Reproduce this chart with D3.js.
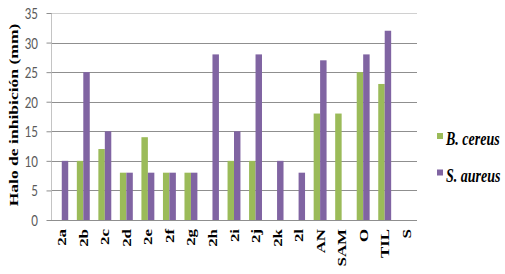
<!DOCTYPE html>
<html>
<head>
<meta charset="utf-8">
<script src="https://cdn.jsdelivr.net/npm/d3@7"></script>
<style>
html,body{margin:0;padding:0;background:#fff;}
svg{display:block;}
</style>
</head>
<body>
<svg id="chart" width="505" height="274"></svg>
<script>
const categories = ["2a","2b","2c","2d","2e","2f","2g","2h","2i","2j","2k","2l","AN","SAM","O","TIL","S"];
const bCereus =  [0,10,12,8,14,8,8,0,10,10,0,0,18,18,25,23,0];
const sAureus =  [10,25,15,8,8,8,8,28,15,28,10,8,27,0,28,32,0];
const seriesNames = ["B. cereus","S. aureus"];
const seriesColors = ["#9BBB59","#8064A2"];
const yTicks = [0,5,10,15,20,25,30,35];
const yTitle = "Halo de inhibición (mm)";

(function(){
const SY = 1.35; // vertical glyph stretch seen in the reference
const svg = d3.select("#chart");
const pLeft = 51, pRight = 417, pTop = 13, pBottom = 220;

const x = d3.scaleBand().domain(categories).range([pLeft, pRight]).paddingInner(0).paddingOuter(0);
const y = d3.scaleLinear().domain([0, 35]).range([pBottom, pTop]);
const bw = x.bandwidth() * 0.3;

// gridlines
svg.append("g").selectAll("line").data(yTicks.filter(d => d > 0)).join("line")
  .attr("x1", pLeft).attr("x2", pRight)
  .attr("y1", d => Math.round(y(d)) + 0.5).attr("y2", d => Math.round(y(d)) + 0.5)
  .attr("stroke", d => d === 35 ? "#d0d0d0" : "#8f8f8f").attr("stroke-width", 1);

// y axis
const yAxis = d3.axisLeft(y).tickValues(yTicks).tickSize(5).tickPadding(8);
const gy = svg.append("g").attr("transform", `translate(${pLeft + 0.5},0)`).call(yAxis);
gy.select(".domain").attr("stroke", "#c4c4c4").attr("d", `M0,${y(35)}V${y(0)}`);
gy.selectAll(".tick line").attr("stroke", "#8f8f8f");
gy.selectAll(".tick text").remove();
gy.selectAll(".tick").append("text")
  .attr("transform", `translate(-13.5,0) scale(1,${SY})`)
  .attr("dy", "0.35em")
  .attr("text-anchor", "end")
  .attr("font-family", "Lato, 'Open Sans', sans-serif")
  .attr("font-size", 11.5)
  .attr("fill", "#595959")
  .text(d => d);

// bars
const rows = categories.map((c, i) => ({c, vals: [bCereus[i], sAureus[i]]}));
const g = svg.append("g");
rows.forEach(r => {
  r.vals.forEach((v, k) => {
    if (v <= 0) return;
    const cx = x(r.c) + x.bandwidth() / 2;
    g.append("rect")
      .attr("x", k === 0 ? cx - bw : cx)
      .attr("width", bw)
      .attr("y", y(v))
      .attr("height", y(0) - y(v))
      .attr("fill", seriesColors[k]);
  });
});

// x axis line
svg.append("line").attr("x1", pLeft).attr("x2", pRight)
  .attr("y1", Math.round(y(0)) + 0.5).attr("y2", Math.round(y(0)) + 0.5)
  .attr("stroke", "#8f8f8f");

// x labels
const xAxis = d3.axisBottom(x).tickSize(0);
const gx = svg.append("g").attr("transform", `translate(0,${pBottom})`).call(xAxis);
gx.select(".domain").remove();
gx.selectAll(".tick text").remove();
gx.selectAll(".tick").append("text")
  .attr("transform", `translate(4.5,9) scale(1,${SY}) rotate(-90)`)
  .attr("text-anchor", "end")
  .attr("font-family", "'Liberation Serif', 'Times New Roman', serif")
  .attr("font-weight", "bold")
  .attr("font-size", 12.5)
  .attr("fill", "#000")
  .text(d => d);

// y title
svg.append("text")
  .attr("transform", `translate(18,115) scale(1,${SY}) rotate(-90)`)
  .attr("text-anchor", "middle")
  .attr("font-family", "'Liberation Serif', 'Times New Roman', serif")
  .attr("font-weight", "bold")
  .attr("font-size", 13)
  .attr("fill", "#000")
  .text(yTitle);

// legend
const legY = [145, 181.5];
seriesNames.forEach((n, k) => {
  svg.append("rect").attr("x", 437).attr("y", legY[k] - 12).attr("width", 6).attr("height", 6)
    .attr("fill", seriesColors[k]);
  svg.append("text")
    .attr("transform", `translate(446,${legY[k]}) scale(1,${SY})`)
    .attr("font-family", "'Liberation Serif', 'Times New Roman', serif")
    .attr("font-weight", "bold").attr("font-style", "italic")
    .attr("font-size", 14)
    .attr("fill", "#000")
    .text(n);
});
})();
</script>
</body>
</html>
